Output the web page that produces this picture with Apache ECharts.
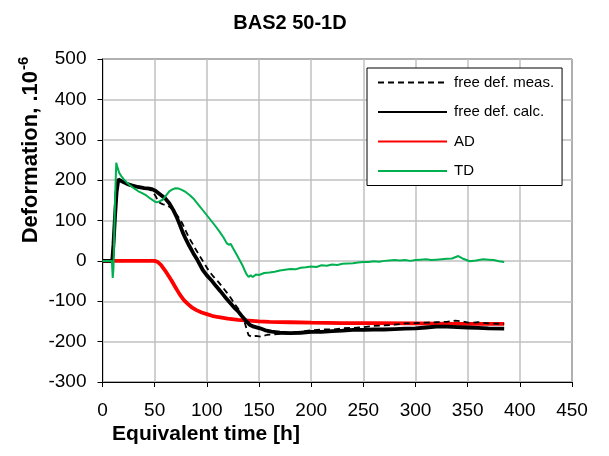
<!DOCTYPE html>
<html>
<head>
<meta charset="utf-8">
<script src="https://cdn.jsdelivr.net/npm/echarts@6/dist/echarts.min.js"></script>
<style>
html,body{margin:0;padding:0;background:#fff;}
#chart{width:609px;height:456px;}
</style>
</head>
<body>
<div id="chart"></div>
<script>
// ---- data ----
var titleText = 'BAS2 50-1D';
var xTitle = 'Equivalent time [h]';
var seriesNames = ['free def. meas.', 'free def. calc.', 'AD', 'TD'];

var measT = [0, 9.3, 10.5, 12, 13.5, 15.2, 17, 20, 24, 28, 34, 40, 45, 48, 51, 54, 58, 62, 66, 70, 74, 77, 80, 83, 86, 89, 93, 97, 102, 106, 111, 115, 119, 123, 127, 131, 134, 136, 138, 140, 143, 147, 152, 158, 165, 172, 180, 190, 200, 210, 220, 230, 240, 250, 260, 270, 280, 290, 300, 310, 320, 330, 338, 345, 352, 360, 370, 385];
var measV = [0, 0, 40, 110, 170, 200, 198, 194, 189, 186, 182, 179, 177, 172, 160, 145, 140, 138, 130, 118, 104, 90, 73, 57, 44, 30, 13, -4, -25, -38, -52, -65, -78, -92, -108, -122, -138, -150, -168, -184, -188, -186, -188, -183, -182, -180, -178, -175, -172, -170, -170, -167, -166, -164, -161, -160, -158, -155, -154, -153, -152, -151, -148, -150, -154, -152, -155, -156];

var calcT = [0, 9.3, 10.5, 12, 13.5, 15.2, 17, 20, 24, 28, 34, 40, 45, 48, 51, 55, 60, 64, 68, 71, 74, 77, 80, 83, 87, 91, 96, 100, 105, 109, 113, 117, 122, 126, 130, 133, 136, 138, 141, 145, 151, 156, 162, 170, 180, 190, 200, 210, 220, 230, 240, 250, 260, 270, 280, 290, 300, 310, 320, 330, 340, 350, 360, 370, 385];
var calcV = [0, 0, 40, 110, 170, 202, 200, 195, 190, 187, 183, 180, 179, 177, 173, 165, 155, 143, 125, 109, 90, 70, 53, 38, 19, 2, -22, -36, -50, -63, -75, -88, -103, -115, -125, -135, -144, -150, -158, -163, -167, -172, -175, -178, -179, -178, -176, -176, -174, -173, -171, -171, -170, -170, -169, -168, -167, -165, -163, -163, -164, -165, -166, -167, -168];

var adT = [0, 50, 53, 56, 60, 64, 66, 70, 74, 78, 82, 86, 90, 95, 100, 105, 110, 120, 130, 140, 150, 160, 180, 200, 230, 260, 300, 340, 385];
var adV = [0, 0, -3, -10, -24, -40, -48, -66, -83, -97, -107, -116, -122, -128, -132, -136, -139, -143, -146, -148, -150, -151, -152, -153, -154, -154, -155, -156, -156];

var tdT = [0, 9, 9.8, 10.5, 12, 13.2, 14, 16, 18, 20, 23, 26, 30, 34, 38, 42, 46, 50, 52, 55, 58, 61, 64, 67, 70, 73, 76, 80, 84, 88, 92, 96, 100, 104, 108, 112, 116, 119, 121, 123, 125, 128, 131, 134, 136, 138, 140, 142, 144, 147, 150, 155, 160, 165, 170, 175, 180, 185, 190, 195, 200, 205, 210, 215, 220, 225, 230, 240, 245, 250, 255, 260, 265, 270, 275, 280, 285, 290, 295, 300, 305, 310, 315, 320, 325, 330, 335, 341, 345, 352, 358, 365, 370, 375, 380, 385];
var tdV = [0, 0, -42, -20, 150, 243, 235, 218, 210, 203, 195, 188, 180, 173, 168, 162, 154, 147, 145, 148, 152, 162, 172, 177, 180, 179, 176, 170, 162, 152, 139, 126, 113, 100, 87, 73, 58, 44, 40, 42, 32, 18, 4, -10, -22, -33, -40, -36, -40, -34, -35, -30, -29, -27, -24, -22, -20, -21, -17, -16, -14, -15, -11, -12, -9, -10, -7, -6, -4, -3, -3, -1, -2, 0, 1, 2, 1, 2, 0, 2, 3, 4, 2, 3, 4, 5, 6, 12, 6, -1, 1, 4, 3, 2, -1, -3];

var xMin = 0, xMax = 450, xStep = 50;
var yMin = -300, yMax = 500, yStep = 100;

function pairs(t, v) { return t.map(function (x, i) { return [x, v[i]]; }); }

var FONT = '"Liberation Sans", Arial, sans-serif';
var chart = echarts.init(document.getElementById('chart'), null, {renderer: 'canvas'});

chart.setOption({
  animation: false,
  backgroundColor: '#ffffff',
  title: {
    text: titleText,
    left: 285, top: 8, textAlign: 'center',
    textStyle: {fontFamily: FONT, fontSize: 20, fontWeight: 'bold', color: '#000'}
  },
  grid: {
    left: 102.5, right: 37, top: 59, bottom: 74,
    show: true, borderColor: '#000', borderWidth: 1, backgroundColor: 'transparent'
  },
  legend: {
    data: seriesNames,
    orient: 'vertical',
    left: 367, top: 68,
    padding: [7, 8, 7, 10],
    itemWidth: 69, itemHeight: 14, itemGap: 14.5,
    backgroundColor: '#fff',
    borderColor: '#000', borderWidth: 1, borderRadius: 0,
    itemStyle: {opacity: 0},
    textStyle: {fontFamily: FONT, fontSize: 15, color: '#000', padding: [0, 0, 0, 2]}
  },
  xAxis: {
    type: 'value', min: xMin, max: xMax, interval: xStep,
    axisLine: {show: true, onZero: false, lineStyle: {color: '#000', width: 1}},
    axisTick: {show: true, inside: false, length: 5, lineStyle: {color: '#000'}},
    axisLabel: {margin: 19, fontFamily: FONT, fontSize: 19, color: '#000'},
    splitLine: {show: true, lineStyle: {color: '#C0C0C0', width: 1.5}}
  },
  yAxis: {
    type: 'value', min: yMin, max: yMax, interval: yStep,
    axisLine: {show: true, onZero: false, lineStyle: {color: '#000', width: 1}},
    axisTick: {show: true, inside: false, length: 5, lineStyle: {color: '#000'}},
    axisLabel: {margin: 16, fontFamily: FONT, fontSize: 19, color: '#000'},
    splitLine: {show: true, lineStyle: {color: '#C0C0C0', width: 1.5}}
  },
  graphic: [
    {
      type: 'text', x: 206, y: 434,
      style: {text: xTitle, font: 'bold 21px ' + FONT, fill: '#000', align: 'center', verticalAlign: 'middle'}
    },
    {
      type: 'text', x: 29, y: 150, rotation: Math.PI / 2,
      style: {
        text: '{a|Deformation, .10}{b|-6}',
        align: 'center', verticalAlign: 'middle', fill: '#000',
        rich: {
          a: {fontFamily: FONT, fontSize: 22, fontWeight: 'bold', lineHeight: 26, verticalAlign: 'bottom'},
          b: {fontFamily: FONT, fontSize: 15, fontWeight: 'bold', lineHeight: 26, verticalAlign: 'top', padding: [0, 0, 8, 1]}
        }
      }
    }
  ],
  series: [
    {
      name: 'AD', type: 'line', data: pairs(adT, adV), showSymbol: false, symbol: 'none', z: 2,
      lineStyle: {color: '#FF0000', width: 3.8}, itemStyle: {color: '#FF0000'}
    },
    {
      name: 'free def. calc.', type: 'line', data: pairs(calcT, calcV), showSymbol: false, symbol: 'none', z: 3,
      lineStyle: {color: '#000000', width: 3.8}, itemStyle: {color: '#000000'}
    },
    {
      name: 'free def. meas.', type: 'line', data: pairs(measT, measV), showSymbol: false, symbol: 'none', z: 4,
      lineStyle: {color: '#000000', width: 1.8, type: [6, 4]}, itemStyle: {color: '#000000'}
    },
    {
      name: 'TD', type: 'line', data: pairs(tdT, tdV), showSymbol: false, symbol: 'none', z: 5,
      lineStyle: {color: '#00B050', width: 2}, itemStyle: {color: '#00B050'}
    }
  ]
});
</script>
</body>
</html>
